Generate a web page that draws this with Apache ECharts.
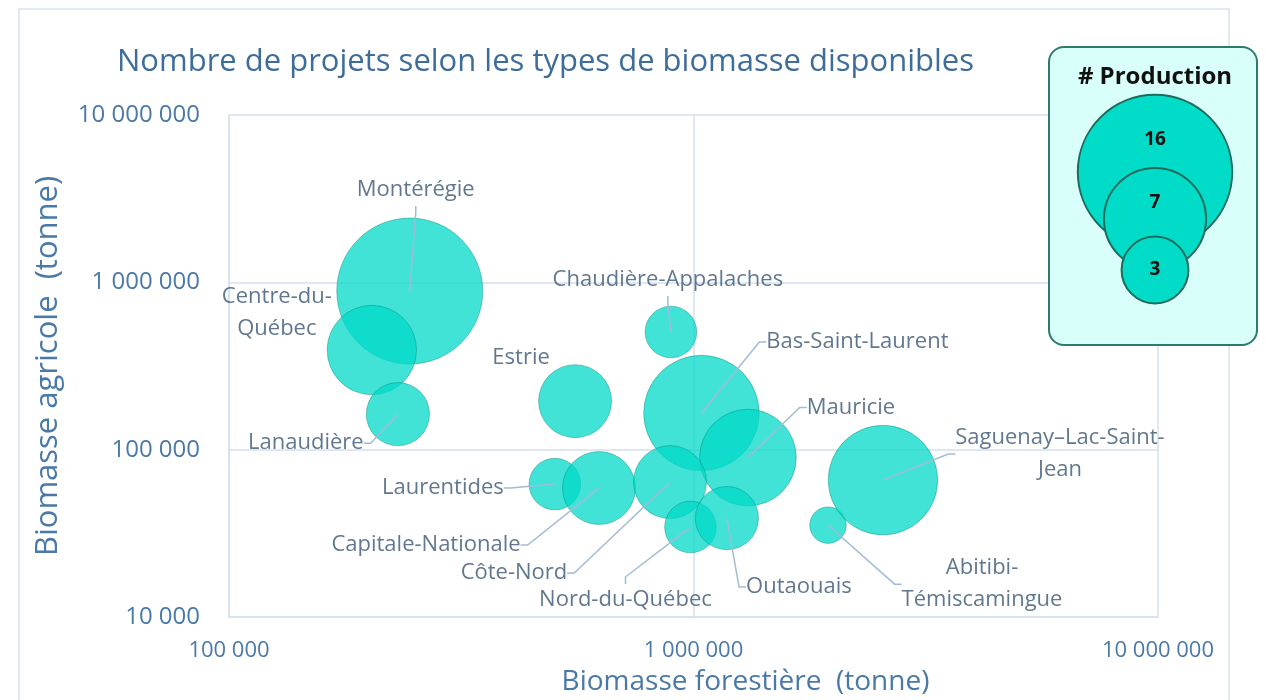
<!DOCTYPE html>
<html>
<head>
<meta charset="utf-8">
<script src="https://cdn.jsdelivr.net/npm/echarts@6/dist/echarts.min.js"></script>
<style>
  html, body { margin: 0; padding: 0; background: #fff; }
  #chart { width: 1266px; height: 700px; }
</style>
</head>
<body>
<div id="chart"></div>
<script>
// Data
const regions = [
    'Montérégie', 'Centre-du-Québec', 'Lanaudière', 'Estrie', 'Laurentides',
    'Capitale-Nationale', 'Chaudière-Appalaches', 'Bas-Saint-Laurent', 'Mauricie',
    'Côte-Nord', 'Nord-du-Québec', 'Outaouais', 'Abitibi-Témiscamingue', 'Saguenay–Lac-Saint-Jean'
];
const forestBiomass = [245000, 203000, 231000, 556000, 503000, 626000, 894000, 1040000, 1310000, 890000, 985000, 1180000, 1948000, 2558000];
const agriBiomass = [887000, 394000, 163000, 195000, 62300, 59000, 505000, 165500, 89700, 64000, 34500, 39000, 35400, 65800];
const production = [16, 6, 3, 4, 2, 4, 2, 10, 7, 4, 2, 3, 1, 9];
const legendValues = [16, 7, 3];
const xTicks = [100000, 1000000, 10000000];
const yTicks = [10000, 100000, 1000000, 10000000];

// label text as shown (line breaks) and offset from bubble centre
const labelText = {
    'Centre-du-Québec': 'Centre-du-\nQuébec',
    'Abitibi-Témiscamingue': 'Abitibi-\nTémiscamingue',
    'Saguenay–Lac-Saint-Jean': 'Saguenay–Lac-Saint-\nJean'
};
const labelOffsets = {
    'Montérégie': [6, -101],
    'Centre-du-Québec': [-95, -37],
    'Lanaudière': [-92, 29],
    'Estrie': [-54, -43],
    'Laurentides': [-112, 4],
    'Capitale-Nationale': [-173, 57],
    'Chaudière-Appalaches': [-3, -52],
    'Bas-Saint-Laurent': [156, -71],
    'Mauricie': [103, -50],
    'Côte-Nord': [-156, 91],
    'Nord-du-Québec': [-65, 73],
    'Outaouais': [72, 69],
    'Abitibi-Témiscamingue': [154, 59],
    'Saguenay–Lac-Saint-Jean': [177, -26]
};
const noLeader = ['Centre-du-Québec', 'Estrie'];
// leader attaches to the top of this label (wide side padding keeps it off the sides)
const topLeader = ['Nord-du-Québec'];

const BUBBLE_K = 18.25; // radius per sqrt(production)
const bubbleSize = v => 2 * BUBBLE_K * Math.sqrt(v);

const fmt = v => String(Math.round(v)).replace(/\B(?=(\d{3})+(?!\d))/g, ' ');

const points = regions.map((name, i) => ({
    name: name,
    value: [forestBiomass[i], agriBiomass[i], production[i]]
}));

const labelPoints = regions.map((name, i) => {
    const item = {
        name: name,
        value: [forestBiomass[i], agriBiomass[i], production[i]],
        labelLine: { show: noLeader.indexOf(name) < 0 }
    };
    if (topLeader.indexOf(name) >= 0) item.label = { padding: [0, 90, 0, 90] };
    return item;
});

const chart = echarts.init(document.getElementById('chart'));

const FONT = '"Open Sans"';
const axisBlue = '#4a79a8';
const gridColor = '#d5e1ee';

// legend graphic, sized with the same rule as bubbles
const legendCx = 1155;
const legendCy = [172, 219, 270];
const legendK = 19.3;
const legendGraphic = [{
    type: 'rect',
    shape: { x: 1049, y: 47, width: 208, height: 298, r: 15 },
    style: { fill: '#d9fffb', stroke: '#2d7b6b', lineWidth: 2 },
    z: 10
}, {
    type: 'text',
    x: legendCx, y: 77,
    style: { text: '# Production', font: 'bold 24px ' + FONT, fill: '#111', align: 'center', verticalAlign: 'middle' },
    z: 11
}];
legendValues.forEach((v, i) => {
    legendGraphic.push({
        type: 'circle',
        shape: { cx: legendCx, cy: legendCy[i], r: legendK * Math.sqrt(v) },
        style: { fill: '#00dcc8', stroke: '#1e6b5c', lineWidth: 2 },
        z: 11 + i
    });
});
const legendLabelY = [140, 203, 270];
legendValues.forEach((v, i) => {
    legendGraphic.push({
        type: 'text',
        x: legendCx, y: legendLabelY[i],
        style: { text: String(v), font: 'bold 19px ' + FONT, fill: '#111', align: 'center', verticalAlign: 'middle' },
        z: 20
    });
});

const option = {
    backgroundColor: '#fff',
    animation: false,
    title: {
        text: 'Nombre de projets selon les types de biomasse disponibles',
        left: 112,
        top: 42,
        textStyle: { fontFamily: FONT, fontSize: 31, fontWeight: 'normal', color: '#3f6d9b' }
    },
    grid: { left: 229, right: 108, top: 115, bottom: 83, outerBoundsMode: 'none' },
    xAxis: {
        type: 'log',
        logBase: 10,
        min: xTicks[0],
        max: xTicks[xTicks.length - 1],
        name: 'Biomasse forestière  (tonne)',
        nameLocation: 'middle',
        nameGap: 51,
        nameTextStyle: { fontFamily: FONT, fontSize: 28, color: axisBlue, padding: [0, 0, 0, 104] },
        axisLine: { show: true, lineStyle: { color: gridColor, width: 1.5 } },
        axisTick: { show: false },
        axisLabel: { fontFamily: FONT, fontSize: 22, color: axisBlue, margin: 23, formatter: fmt },
        splitLine: { show: true, lineStyle: { color: gridColor, width: 1.5 } },
        minorSplitLine: { show: false }
    },
    yAxis: {
        type: 'log',
        logBase: 10,
        min: yTicks[0],
        max: yTicks[yTicks.length - 1],
        name: 'Biomasse agricole  (tonne)',
        nameLocation: 'middle',
        nameGap: 165,
        nameTextStyle: { fontFamily: FONT, fontSize: 31, color: axisBlue },
        axisLine: { show: true, lineStyle: { color: gridColor, width: 1.5 } },
        axisTick: { show: false },
        axisLabel: { fontFamily: FONT, fontSize: 24, color: axisBlue, margin: 29, formatter: fmt },
        splitLine: { show: true, lineStyle: { color: gridColor, width: 1.5 } }
    },
    graphic: [{
        type: 'rect',
        shape: { x: 19, y: 9, width: 1210, height: 720 },
        style: { fill: 'none', stroke: '#d8e3ef', lineWidth: 1.5 },
        silent: true,
        z: -1
    }].concat(legendGraphic),
    series: [{
        name: 'Production',
        type: 'scatter',
        data: points,
        symbolSize: val => bubbleSize(val[2]),
        itemStyle: {
            color: 'rgb(0, 217, 200)',
            opacity: 0.75,
            borderColor: 'rgba(0, 120, 110, 0.5)',
            borderWidth: 1
        },
        emphasis: { disabled: true },
        z: 2
    }, {
        name: 'labels',
        type: 'scatter',
        data: labelPoints,
        symbolSize: 1,
        itemStyle: { color: 'rgba(0,0,0,0)' },
        emphasis: { disabled: true },
        label: {
            show: true,
            position: 'inside',
            fontFamily: FONT,
            fontSize: 22,
            lineHeight: 32,
            color: '#3a5573',
            align: 'center',
            verticalAlign: 'middle',
            formatter: p => labelText[p.name] || p.name
        },
        labelLine: {
            show: true,
            length2: 7,
            minTurnAngle: 60,
            lineStyle: { color: '#a2bbd7', width: 1.5 }
        },
        labelLayout: p => {
            const name = regions[p.dataIndex];
            const o = labelOffsets[name] || [0, 0];
            return { dx: o[0], dy: o[1] };
        },
        z: 5
    }]
};

chart.setOption(option);
</script>
</body>
</html>
